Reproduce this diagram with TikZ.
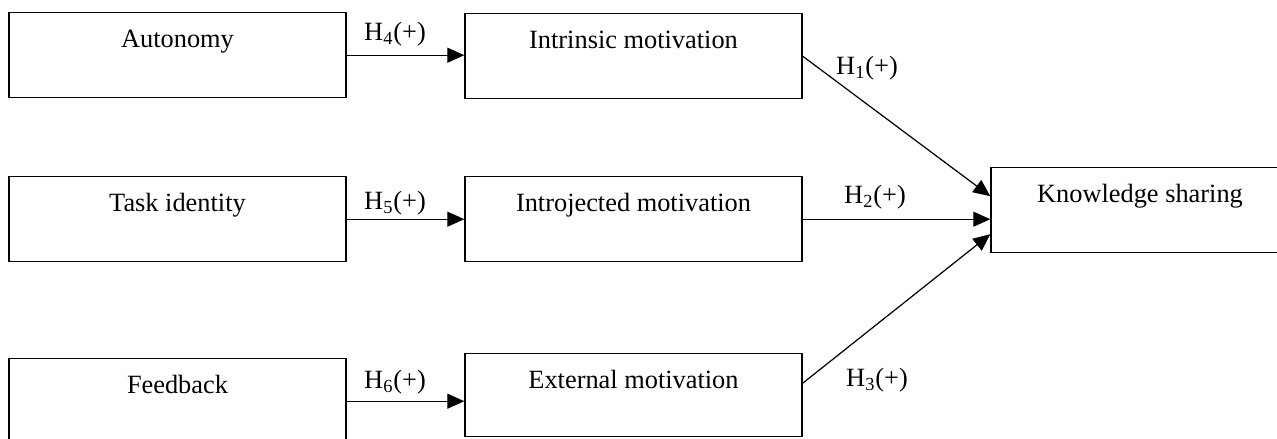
\documentclass[tikz,border=0pt]{standalone}
\usepackage{fontspec}
\setmainfont{Liberation Serif}
\usepackage{tikz}
\usetikzlibrary{arrows.meta,positioning,calc}

\begin{document}
\begin{tikzpicture}[every node/.style={font=\fontsize{15}{18}\selectfont},
    varbox/.style={draw, line width=0.8pt, anchor=north, inner sep=0pt,
        text height=0.7cm, text depth=1.0cm, minimum width=6.74cm},
    hyp/.style={-{Triangle[length=0.34cm,width=0.3cm]}, line width=0.7pt}]
                \useasboundingbox (0,0) rectangle (25.54,-8.78);
                \clip (0,0) rectangle (25.54,-8.78);
                % job characteristics
                \node[varbox] (aut) at (3.55,-0.24) {Autonomy};
                \node[varbox] (task) at (3.55,-3.52) {Task identity};
                \node[varbox] (feed) at (3.55,-7.16) {Feedback};
                % motivation
                \node[varbox] (intr) at (12.67,-0.26) {Intrinsic motivation};
                \node[varbox] (intro) at (12.67,-3.52) {Introjected motivation};
                \node[varbox, text depth=0.96cm] (ext) at (12.67,-7.06) {External motivation};
                \node[varbox, minimum width=5.96cm] (ks) at (22.8,-3.34) {Knowledge sharing};
                % hypotheses
                \draw[hyp] (aut.east) -- (aut.east -| intr.west);
                \draw[hyp] (task.east) -- (task.east -| intro.west);
                \draw[hyp] (feed.east) -- (feed.east -| ext.west);
                \draw[hyp] (intr.east) -- ([yshift=0.28cm]ks.west);
                \draw[hyp] (intro.east) -- (intro.east -| ks.west);
                \draw[hyp] ([yshift=0.24cm]ext.east) -- ([yshift=-0.48cm]ks.west);
                \node (h4) at (7.9,-0.68) {H\textsubscript{4}(+)};
                \node (h5) at (7.9,-4.06) {H\textsubscript{5}(+)};
                \node (h6) at (7.9,-7.64) {H\textsubscript{6}(+)};
                \node (h1) at (17.34,-1.36) {H\textsubscript{1}(+)};
                \node (h2) at (17.5,-3.94) {H\textsubscript{2}(+)};
                \node (h3) at (17.54,-7.6) {H\textsubscript{3}(+)};
            \end{tikzpicture}
\end{document}
